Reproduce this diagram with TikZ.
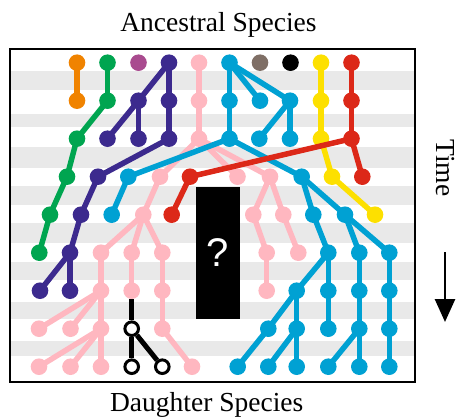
\documentclass[tikz,border=0pt]{standalone}
\usepackage{fontspec}
\setmainfont{Liberation Serif}
\newfontfamily\qfont{Liberation Sans}
\usetikzlibrary{arrows.meta}
\definecolor{cOrange}{HTML}{F08300}
\definecolor{cGreen}{HTML}{00A550}
\definecolor{cPurple}{HTML}{A94B8F}
\definecolor{cIndigo}{HTML}{3C2A8E}
\definecolor{cPink}{HTML}{FFB7C0}
\definecolor{cBlue}{HTML}{00A1D3}
\definecolor{cBrown}{HTML}{7F6F66}
\definecolor{cYellow}{HTML}{FDE000}
\definecolor{cRed}{HTML}{DC2818}
\definecolor{bandgray}{HTML}{E9E9E9}
\begin{document}
\begin{tikzpicture}[x=1pt,y=-1pt,
  dot/.style={circle,inner sep=0pt,minimum size=16.6pt,fill=#1,draw=none},
  hollow/.style={circle,inner sep=0pt,minimum size=13.6pt,fill=white,draw=black,line width=3pt},
  link/.style={line width=5.5pt,draw=#1},
  blink/.style={line width=5pt,draw=black},
  band/.style={fill=bandgray,draw=none},
  lbl/.style={font=\fontsize{27.5}{33}\selectfont,inner sep=0pt},
  frame/.style={draw=black,line width=1.6pt},
  qbox/.style={fill=black,minimum width=44pt,minimum height=132pt,inner sep=0pt,text=white,font=\qfont\fontsize{40}{44}\selectfont},
  timearrow/.style={line width=2.8pt,-{Triangle[width=20pt,length=23pt]}}]
\useasboundingbox (0,0) rectangle (457,417);
% bands
\foreach \a/\b in {71/90,114/127,147/168,186/205,223/243,262/280,302/319,341/356}
  \fill[band] (10,\a) rectangle (415,\b);
\draw[frame] (10,49) rectangle (415,382);
% labels
\node[lbl,anchor=base] (anc) at (218.5,32) {Ancestral Species};
\node[lbl,anchor=base] (dau) at (206.7,411.5) {Daughter Species};
\node[lbl,anchor=base,rotate=-90] (time) at (436.5,168) {Time};
\coordinate (arrS) at (445,252);
\coordinate (arrE) at (445,322);
\draw[timearrow] (arrS) -- (arrE);
% question box
\node[qbox] (qb) at (218,253) {?};
% ---------- pink ----------
\foreach \n/\x/\y in {pk1/199/62.7,pk2/199/100.7,pk3/199/138.7,
  pkA/160/176.7,pkB/237.5/176.7,pkC/270/176.7,
  pkDa/253.3/214.7,pkDb/283.3/214.7,pkEa/266.7/252.7,pkEb/298.3/252.7,pkF/266.7/290.7,
  pkG/143.3/214.7,pkHa/101/252.7,pkHb/131.7/252.7,pkHc/162.3/252.7,
  pkIa/101/290.7,pkIb/131.7/290.7,pkIc/162.3/290.7,
  pkJa/39/328.7,pkJb/70.5/328.7,pkJc/101/328.7,pkJd/162.3/328.7,
  pkKa/39/366.7,pkKb/70.5/366.7,pkKc/101/366.7,pkKd/192/366.7}
  \node[dot=cPink] (\n) at (\x,\y) {};
\foreach \a/\b in {pk1/pk2,pk2/pk3,pk3/pkA,pk3/pkB,pk3/pkC,pkC/pkDa,pkC/pkDb,
  pkDa/pkEa,pkEa/pkF,pkDb/pkEb,pkA/pkG,pkG/pkHa,pkG/pkHb,pkG/pkHc,
  pkHa/pkIa,pkHb/pkIb,pkHc/pkIc,pkIa/pkJa,pkIa/pkJb,pkIa/pkJc,
  pkJc/pkKa,pkJc/pkKb,pkJc/pkKc,pkIc/pkJd,pkJd/pkKd}
  \draw[link=cPink] (\a.center) -- (\b.center);
% hollow (black) lineage
\node[hollow] (ha) at (131.7,328.7) {};
\node[hollow] (hb) at (131.7,366.7) {};
\node[hollow] (hc) at (162.3,366.7) {};
\draw[blink] (pkIb) -- (ha);
\draw[blink] (ha) -- (hb);
\draw[blink] (ha) -- (hc);
% ---------- blue ----------
\foreach \n/\x/\y in {b1/229.5/62.7,b2/229.5/100.7,b3/260/100.7,b4/290/100.7,
  b5/259.3/138.7,b6/290/138.7,b7/229.5/138.7,b8/128.3/176.7,b9/111.7/214.7,
  b10/301.7/176.7,b11/313.3/214.7,b12/345/214.7,
  b13/328.3/252.7,b14/359.3/252.7,b15/389.3/252.7,
  b16/296.7/290.7,b17/328.3/290.7,b18/359.3/290.7,b19/389.3/290.7,
  b20/268.3/328.7,b21/296.7/328.7,b22/328.3/328.7,b23/359.3/328.7,b24/389.3/328.7,
  b25/237.7/366.7,b26/268.3/366.7,b27/296.7/366.7,b28/328.3/366.7,b29/359.3/366.7,b30/389.3/366.7}
  \node[dot=cBlue] (\n) at (\x,\y) {};
\foreach \a/\b in {b1/b2,b1/b3,b1/b4,b4/b5,b4/b6,b2/b7,b7/b8,b8/b9,b7/b10,
  b10/b11,b10/b12,b11/b13,b12/b14,b12/b15,b13/b16,b13/b17,b14/b18,b15/b19,
  b16/b20,b20/b25,b16/b21,b21/b26,b21/b27,b17/b22,b18/b23,b23/b28,b23/b29,
  b19/b24,b24/b30}
  \draw[link=cBlue] (\a.center) -- (\b.center);
% ---------- indigo ----------
\foreach \n/\x/\y in {i1/169/62.7,i2/138.5/100.7,i3/169/100.7,i4/107.5/138.7,
  i5/138.5/138.7,i6/169/138.7,i7/98/176.7,i8/81/214.7,i9/70/252.7,
  i10/40/290.7,i11/70/290.7}
  \node[dot=cIndigo] (\n) at (\x,\y) {};
\foreach \a/\b in {i1/i2,i1/i3,i2/i4,i2/i5,i3/i6,i6/i7,i7/i8,i8/i9,i9/i10,i9/i11}
  \draw[link=cIndigo] (\a.center) -- (\b.center);
% ---------- green ----------
\foreach \n/\x/\y in {g1/107.5/62.7,g2/107.5/100.7,g3/77/138.7,g4/67/176.7,
  g5/50/214.7,g6/39.3/252.7}
  \node[dot=cGreen] (\n) at (\x,\y) {};
\foreach \a/\b in {g1/g2,g2/g3,g3/g4,g4/g5,g5/g6}
  \draw[link=cGreen] (\a.center) -- (\b.center);
% ---------- orange, purple, brown, black ----------
\node[dot=cOrange] (o1) at (77,62.7) {};
\node[dot=cOrange] (o2) at (77,100.7) {};
\draw[link=cOrange] (o1.center) -- (o2.center);
\node[dot=cPurple] (pp1) at (138.5,62.7) {};
\node[dot=cBrown] (w1) at (260,62.7) {};
\node[dot=black] (k1) at (290.5,62.7) {};
% ---------- yellow ----------
\foreach \n/\x/\y in {y1/321/62.7,y2/321/100.7,y3/321/138.7,y4/332/176.7,y5/375/214.7}
  \node[dot=cYellow] (\n) at (\x,\y) {};
\foreach \a/\b in {y1/y2,y2/y3,y3/y4,y4/y5}
  \draw[link=cYellow] (\a.center) -- (\b.center);
% ---------- red ----------
\foreach \n/\x/\y in {r1/351.5/62.7,r2/351.5/100.7,r3/351.5/138.7,r4/362.3/176.7,
  r5/190/176.7,r6/171.7/214.7}
  \node[dot=cRed] (\n) at (\x,\y) {};
\foreach \a/\b in {r1/r2,r2/r3,r3/r4,r3/r5,r5/r6}
  \draw[link=cRed] (\a.center) -- (\b.center);
\end{tikzpicture}
\end{document}
